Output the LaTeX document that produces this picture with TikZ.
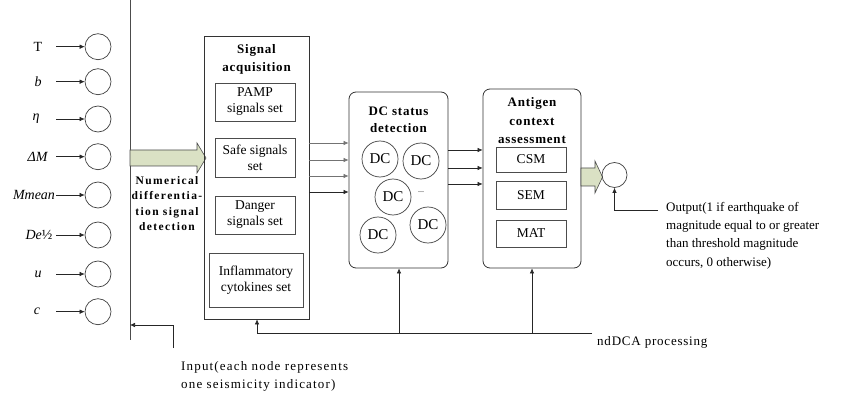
\documentclass[tikz,border=0pt]{standalone}
\usepackage{fontspec}
\setmainfont{Liberation Serif}
\usetikzlibrary{arrows.meta}
\definecolor{arrowgreen}{RGB}{218,225,196}
\begin{document}
\begin{tikzpicture}[x=1pt,y=-1pt,
  conn/.style={draw=black!85, line width=0.6pt},
  arr/.style={conn, -{Latex[length=5pt,width=4.5pt]}},
  grayarr/.style={draw=black!55, line width=0.6pt, -{Latex[length=5pt,width=4.5pt]}},
  frame/.style={draw=black!80, line width=0.8pt, inner sep=0pt},
  rframe/.style={frame, rounded corners=7pt},
  subbox/.style={draw=black!70, line width=0.7pt, inner sep=0pt, align=center, font=\fontsize{13.5}{16}\selectfont},
  circ/.style={circle, draw=black!75, line width=0.7pt, minimum size=26pt, inner sep=0pt},
  dcc/.style={circle, draw=black!75, line width=0.7pt, minimum size=36pt, inner sep=0pt, font=\fontsize{15}{15}\selectfont},
  ttl/.style={align=center, font=\bfseries\fontsize{13}{16.5}\selectfont\addfontfeature{LetterSpace=6}, inner sep=0pt},
  lab/.style={inner sep=0pt, font=\fontsize{14}{14}\selectfont},
  txt/.style={inner sep=0pt, align=left, anchor=north west, font=\fontsize{13}{18.3}\selectfont},
  bigarrow/.style={fill=arrowgreen, draw=black!70, line width=0.6pt}
]
\useasboundingbox (0,0) rectangle (848,398);

% input layer
\draw[conn, draw=black!70, line width=0.8pt] (130,0) coordinate (vtop) -- (130,340) coordinate (vbot);
\foreach \i/\y/\x/\t in {1/46.7/38/T, 2/81.7/38/\textit{b}, 3/119/36/\textit{η}, 4/156.7/38/\textit{ΔM},
  5/195/34/\textit{Mmean}, 6/235/39/\textit{De}½, 7/274/38/\textit{u}, 8/311.7/37/\textit{c}}{
  \node[circ] (in\i) at (98,\y) {};
  \node[lab] (lab\i) at (\x,\y) {\t};
  \coordinate (st\i) at (56,\y);
  \draw[arr] (st\i) -- (in\i.west);
}
\coordinate (inA) at (173,348);
\coordinate (inB) at (173,325);
\draw[arr] (inA) -- (inB) -- (vbot |- inB);
\node[txt, font=\fontsize{13}{18}\selectfont\addfontfeature{LetterSpace=9}] (inputtxt) at (181,361) {Input(each node represents\\one seismicity indicator)};

% big arrow 1
\draw[bigarrow] (130,150) -- (197,150) -- (197,143) -- (206,158) -- (197,173) -- (197,166) -- (130,166) -- cycle;
\node[ttl, font=\bfseries\fontsize{11.5}{15.5}\selectfont\addfontfeature{LetterSpace=12}] (nds) at (167,203.5) {Numerical\\differentia-\\tion signal\\detection};

% signal acquisition
\node[frame, minimum width=105pt, minimum height=283pt] (sig) at (256.5,177.5) {};
\node[ttl, font=\bfseries\fontsize{13}{18}\selectfont\addfontfeature{LetterSpace=6}] (sigt) at (256.5,59) {Signal\\acquisition};
\node[subbox, minimum width=80pt, minimum height=38pt] (pamp) at (255,102) {PAMP\\signals set};
\node[subbox, minimum width=80pt, minimum height=39pt] (safe) at (255,157.5) {Safe signals\\set};
\node[subbox, minimum width=80pt, minimum height=38pt] (danger) at (255,215) {Danger\\signals set};
\node[subbox, minimum width=94pt, minimum height=54pt] (infl) at (256,280) {Inflammatory\\cytokines set};

% DC status detection
\node[rframe, minimum width=99pt, minimum height=176pt] (dc) at (398.5,180) {};
\node[ttl] (dct) at (398.5,120) {DC status\\detection};
\node[dcc] (dc1) at (380,159) {DC};
\node[dcc] (dc2) at (421,161) {DC};
\node[dcc] (dc3) at (393,197) {DC};
\node[dcc] (dc4) at (378,235) {DC};
\node[dcc] (dc5) at (428,225) {DC};
\node[inner sep=0pt, font=\fontsize{8}{8}\selectfont] (dots) at (421,192) {...};

\foreach \y in {143,160,176}{
  \draw[grayarr] (sig.east |- 0,\y) -- (dc.west |- 0,\y);
}
\draw[arr] (sig.east |- 0,192) -- (dc.west |- 0,192);

% antigen context assessment
\node[rframe, minimum width=98pt, minimum height=179pt] (ag) at (532,178.5) {};
\node[ttl, font=\bfseries\fontsize{13}{18.5}\selectfont\addfontfeature{LetterSpace=6}] (agt) at (532,121) {Antigen\\context\\assessment};
\node[subbox, minimum width=70pt, minimum height=25pt] (csm) at (531,159.5) {CSM};
\node[subbox, minimum width=70pt, minimum height=28pt] (sem) at (531,195) {SEM};
\node[subbox, minimum width=70pt, minimum height=27pt] (mat) at (531,233.5) {MAT};
\foreach \y in {150,168,184}{
  \draw[arr] (dc.east |- 0,\y) -- (ag.west |- 0,\y);
}

% output
\draw[bigarrow] (581,168) -- (595,168) -- (595,161) -- (602.5,177) -- (595,193) -- (595,186) -- (581,186) -- cycle;
\node[circ, minimum size=25pt] (out) at (614.5,175) {};
\coordinate (outA) at (658,210);
\draw[arr] (outA) -- (out.south |- outA) -- (out.south);
\node[txt] (outtxt) at (666,202) {Output(1 if earthquake of\\magnitude equal to or greater\\than threshold magnitude\\occurs, 0 otherwise)};

% ndDCA processing
\coordinate (ndA) at (592,333);
\coordinate (ndS) at (257,333);
\draw[conn] (ndA) -- (ndS);
\draw[arr] (ndS) -- (sig.south -| ndS);
\draw[arr] (399,333) -- (dc.south -| 399,0);
\draw[arr] (532,333) -- (ag.south);
\node[inner sep=0pt, anchor=west, font=\fontsize{13}{15}\selectfont\addfontfeature{LetterSpace=6}] (ndtxt) at (597,342) {ndDCA processing};
\end{tikzpicture}
\end{document}
